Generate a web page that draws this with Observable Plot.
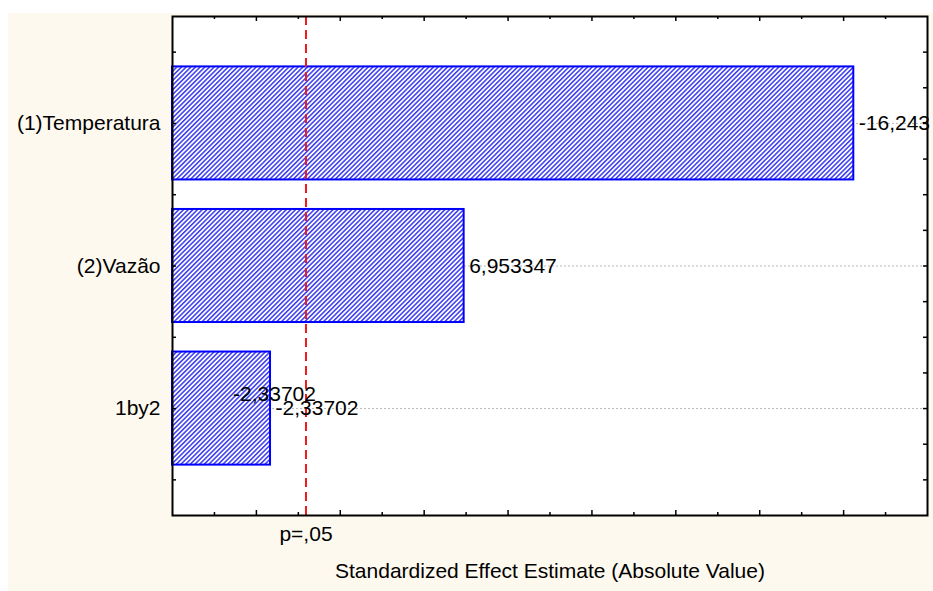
<!DOCTYPE html>
<html>
<head>
<meta charset="utf-8">
<script src="https://cdn.jsdelivr.net/npm/d3@7"></script>
<script src="https://cdn.jsdelivr.net/npm/@observablehq/plot@0.6"></script>
<style>
  html, body { margin: 0; padding: 0; background: #ffffff; }
  #wrap { position: relative; width: 933px; height: 591px; overflow: hidden; }
  #bg { position: absolute; left: 8px; top: 13px; right: 0; bottom: 0; background: #fdf9ef; }
  #chart { position: absolute; left: 0; top: 0; }
  #chart svg { background: transparent; }
</style>
</head>
<body>
<div id="wrap"><div id="bg"></div><div id="chart"></div></div>
<script>
// ---- data ----
const effects = ["(1)Temperatura", "(2)Vazão", "1by2"];
const absValues = [16.243, 6.953347, 2.33702];
const valueLabels = ["-16,243", "6,953347", "-2,33702"];
const pCrit = 3.182446;
const pLabel = "p=,05";
const xTitle = "Standardized Effect Estimate (Absolute Value)";
const xDomain = [0, 18];
const xMajorTicks = [2, 4, 6, 8, 10, 12, 14, 16];
const xMinorTicks = [1, 3, 5, 7, 9, 11, 13, 15, 17];
const yPositions = [1, 2, 3];
const yHalfTicks = [0.5, 1, 1.5, 2, 2.5, 3, 3.5];
const yQuarterTicks = [0.5, 0.75, 1, 1.25, 1.5, 1.75, 2, 2.25, 2.5, 2.75, 3, 3.25, 3.5];

const data = effects.map((name, i) => ({name, pos: yPositions[i], value: absValues[i], label: valueLabels[i]}));

const W = 933, H = 591;
const mL = 172, mR = 6, mT = 16, mB = 76;
const pw = W - mL - mR, ph = H - mT - mB;
const half = 0.3965;
const font = "'Liberation Sans', Arial, sans-serif";

const chart = Plot.plot({
  width: W, height: H,
  marginLeft: mL, marginRight: mR, marginTop: mT, marginBottom: mB,
  style: {fontFamily: font, fontSize: "21px", background: "transparent", color: "#000"},
  x: {domain: xDomain, axis: null},
  y: {domain: [0.25, 3.75], reverse: true, axis: null},
  marks: [
    Plot.frame({fill: "white", stroke: "none"}),
    Plot.ruleY(yPositions, {y: d => d, stroke: "#b8b8b8", strokeWidth: 1, strokeDasharray: "2,2"}),
    Plot.rectX(data, {x1: 0, x2: "value", y1: d => d.pos - half, y2: d => d.pos + half,
      fill: "url(#hatch)", stroke: "#0000ff", strokeWidth: 2}),
    Plot.ruleX([pCrit], {x: d => d, stroke: "#ee1c1c", strokeWidth: 2, strokeDasharray: "9,5"}),
    // bottom ticks (inward)
    Plot.tickX(xMajorTicks, {x: d => d, insetTop: ph - 5, stroke: "#000", strokeWidth: 1.5}),
    Plot.tickX(xMinorTicks, {x: d => d, insetTop: ph - 3, stroke: "#000", strokeWidth: 1.5}),
    // top ticks (inward)
    Plot.tickX(xMajorTicks, {x: d => d, insetBottom: ph - 5, stroke: "#000", strokeWidth: 1.5}),
    Plot.tickX(xMinorTicks, {x: d => d, insetBottom: ph - 3, stroke: "#000", strokeWidth: 1.5}),
    // left ticks
    Plot.tickY(yHalfTicks, {y: d => d, insetRight: pw - 4, stroke: "#000", strokeWidth: 1.5}),
    // right ticks
    Plot.tickY(yQuarterTicks, {y: d => d, insetLeft: pw - 4, stroke: "#000", strokeWidth: 1.5}),
    Plot.frame({stroke: "#000", strokeWidth: 2}),
    Plot.axisY(yPositions, {tickSize: 0, tickPadding: 12, tickFormat: p => effects[p - 1], fontSize: 21, fill: "#000", label: null}),
    Plot.text(data, {x: "value", y: "pos", text: "label", textAnchor: "start", dx: 5, fontSize: 21, fill: "#000"}),
    Plot.text([data[2]], {x: "value", y: "pos", text: "label", textAnchor: "middle", dx: 4, dy: -14, fontSize: 21, fill: "#000"}),
    Plot.text([pLabel], {x: pCrit, frameAnchor: "bottom", text: d => d, dy: 25, fontSize: 21, fill: "#000"}),
    Plot.text([xTitle], {frameAnchor: "bottom", text: d => d, dy: 62, fontSize: 21, fill: "#000"})
  ]
});

// hatch pattern definition
const ns = "http://www.w3.org/2000/svg";
const defs = document.createElementNS(ns, "defs");
defs.innerHTML = `<pattern id="hatch" patternUnits="userSpaceOnUse" width="3.3" height="10" patternTransform="rotate(45)">
  <rect x="0" y="0" width="3.3" height="10" fill="#ffffff"></rect>
  <rect x="0" y="0" width="1.6" height="10" fill="#4444f0"></rect>
</pattern>`;
chart.insertBefore(defs, chart.firstChild);
document.getElementById("chart").appendChild(chart);
</script>
</body>
</html>
